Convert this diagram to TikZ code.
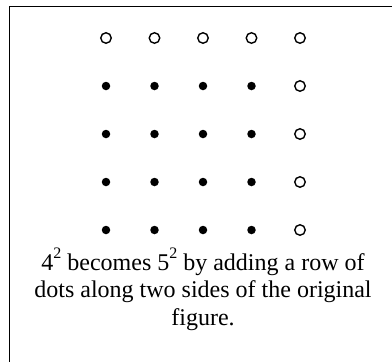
\documentclass[tikz,border=0pt]{standalone}
\usepackage{fontspec}
\setmainfont{Liberation Serif}
\usepackage{tikz}
\usetikzlibrary{positioning}
\newcommand{\sqr}{\raisebox{0.5em}{\fontsize{16}{16}\selectfont 2}}
\tikzset{
  dotfull/.style={circle, fill=black, inner sep=0pt, minimum size=8.5pt},
  dotopen/.style={circle, draw=black, fill=white, line width=1.4pt, inner sep=0pt, minimum size=10.5pt},
  frame/.style={line width=1.6pt},
  caption/.style={align=center, font=\fontsize{24}{27.5}\selectfont}
}
\begin{document}
\begin{tikzpicture}[x=1pt, y=-1pt]
  \path[use as bounding box] (0,0) rectangle (392,362);

  % open frame: top and left sides
  \draw[frame] (9.5,362) -- (9.5,6.5) -- (392,6.5);

  % top row of added dots
  \foreach \c in {1,...,5}
    \node[dotopen] (t\c) at ({106+48.5*(\c-1)},38) {};

  % original 4x4 square with added column on the right
  \foreach \r in {1,...,4} {
    \foreach \c in {1,...,4}
      \node[dotfull] (d\r\c) at ({106+48.5*(\c-1)},{38+48*\r}) {};
    \node[dotopen] (e\r) at (300,{38+48*\r}) {};
  }

  % caption
  \node[caption] (cap) at (203,289) {4\sqr{} becomes 5\sqr{} by adding a row of\\
    dots along two sides of the original\\ figure.};
\end{tikzpicture}
\end{document}
